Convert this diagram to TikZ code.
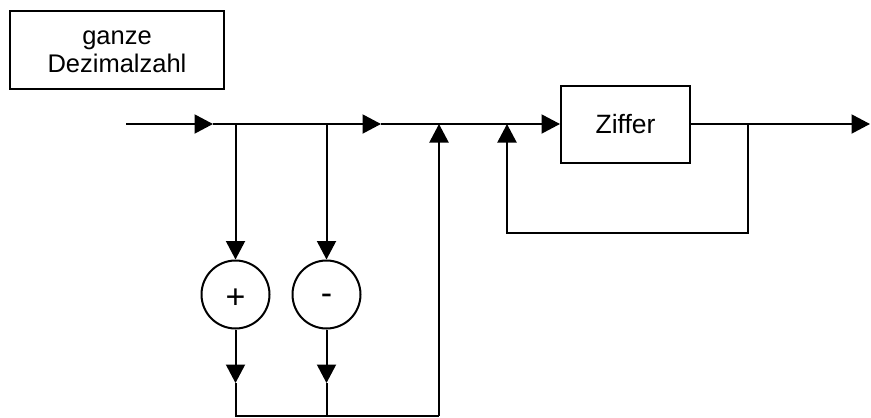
\documentclass[tikz,border=0pt]{standalone}
\usepackage{fontspec}
\setmainfont{Liberation Sans}
\usetikzlibrary{arrows.meta}
\newcommand{\lowered}[2]{\raisebox{#1}[\height][\depth]{#2}}
\begin{document}
\begin{tikzpicture}[x=1pt,y=-1pt,line width=2pt,
  arr/.style={-{Triangle[length=18.5pt,width=19pt]}},
  box/.style={draw,inner sep=0pt,align=center},
  ring/.style={draw,circle,inner sep=0pt,minimum size=68pt,font=\fontsize{34}{38}\selectfont}]
\useasboundingbox (0,0) rectangle (871,418);
\node[box,minimum width=214pt,minimum height=78pt,font=\fontsize{25.5}{28}\selectfont] (title) at (117,50) {\vphantom{D}ganze\\Dezimalzahl};
\node[box,minimum width=129pt,minimum height=77pt,font=\fontsize{26.5}{30}\selectfont] (ziffer) at (625.5,124) {Ziffer};
\node[ring] (plus) at (235.5,294.5) {\lowered{-4pt}{+}};
\node[ring] (minus) at (326.5,294.5) {\lowered{-5pt}{-}};
\coordinate (start) at (126,124);
\coordinate (a1) at (213,124);
\coordinate (j1) at (235.5,124);
\coordinate (j2) at (326.5,124);
\coordinate (a2) at (381,124);
\coordinate (j3) at (439,124);
\coordinate (j4) at (507,124);
\coordinate (j5) at (748,124);
\coordinate (end) at (870,124);
\coordinate (d1) at (235.5,383);
\coordinate (d2) at (326.5,383);
\coordinate (b1) at (235.5,416);
\coordinate (b2) at (326.5,416);
\coordinate (b3) at (439,416);
\coordinate (l1) at (507,233);
\coordinate (l2) at (748,233);
\draw[arr] (start) -- (a1);
\draw[arr] (a1) -- (a2);
\draw[arr] (a2) -- (ziffer.west);
\draw[arr] (ziffer.east) -- (end);
\draw[arr] (j1) -- (plus.north);
\draw[arr] (j2) -- (minus.north);
\draw[arr] (plus.south) -- (d1);
\draw[arr] (minus.south) -- (d2);
\draw (d1) -- (b1) -- (b3);
\draw (d2) -- (b2);
\draw[arr] (b3) -- (j3);
\draw[arr] (j5) -- (l2) -- (l1) -- (j4);
\end{tikzpicture}
\end{document}
